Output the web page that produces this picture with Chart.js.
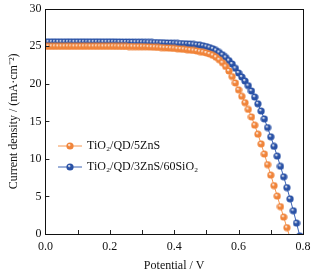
<!DOCTYPE html>
<html lang="en">
<head>
    <meta charset="UTF-8">
    <title>J-V curves</title>
    <script src="https://cdn.jsdelivr.net/npm/chart.js"></script>
    <style>
        body { margin: 0; background: #fff; }
        #box { width: 322px; height: 272px; }
    </style>
</head>
<body>
    <div id="box"><canvas id="jv" width="322" height="272"></canvas></div>

    <script>
        // potential (V)
        const voltage = [
            0.00, 0.01, 0.02, 0.03, 0.04, 0.05, 0.06, 0.07, 0.08, 0.09,
            0.10, 0.11, 0.12, 0.13, 0.14, 0.15, 0.16, 0.17, 0.18, 0.19,
            0.20, 0.21, 0.22, 0.23, 0.24, 0.25, 0.26, 0.27, 0.28, 0.29,
            0.30, 0.31, 0.32, 0.33, 0.34, 0.35, 0.36, 0.37, 0.38, 0.39,
            0.40, 0.41, 0.42, 0.43, 0.44, 0.45, 0.46, 0.47, 0.48, 0.49,
            0.50, 0.51, 0.52, 0.53, 0.54, 0.55, 0.56, 0.57, 0.58, 0.59,
            0.60, 0.61, 0.62, 0.63, 0.64, 0.65, 0.66, 0.67, 0.68, 0.69,
            0.70, 0.71, 0.72, 0.73, 0.74, 0.75, 0.76, 0.77, 0.78, 0.79
        ];

        // current density (mA/cm2), TiO2/QD/5ZnS
        const current5ZnS = [
            25.00, 25.00, 25.00, 25.00, 25.00, 25.00, 25.00, 25.00, 25.00, 25.00,
            25.00, 25.00, 25.00, 25.00, 25.00, 25.00, 25.00, 25.00, 25.00, 25.00,
            25.00, 25.00, 24.99, 24.99, 24.98, 24.98, 24.97, 24.97, 24.96, 24.96,
            24.95, 24.94, 24.92, 24.90, 24.88, 24.86, 24.84, 24.81, 24.78, 24.75,
            24.72, 24.68, 24.64, 24.60, 24.55, 24.50, 24.45, 24.38, 24.30, 24.22,
            24.12, 23.98, 23.80, 23.55, 23.22, 22.82, 22.32, 21.72, 20.98, 20.12,
            19.20, 18.35, 17.50, 16.60, 15.60, 14.50, 13.30, 12.00, 10.65, 9.25,
            7.85, 6.45, 5.05, 3.65, 2.25, 0.85, -0.55
        ];

        // current density (mA/cm2), TiO2/QD/3ZnS/60SiO2
        const current60SiO2 = [
            25.60, 25.60, 25.60, 25.60, 25.60, 25.60, 25.60, 25.60, 25.60, 25.60,
            25.60, 25.60, 25.60, 25.60, 25.60, 25.60, 25.60, 25.60, 25.60, 25.60,
            25.60, 25.60, 25.59, 25.59, 25.58, 25.58, 25.57, 25.57, 25.56, 25.56,
            25.55, 25.54, 25.53, 25.52, 25.51, 25.50, 25.49, 25.47, 25.45, 25.43,
            25.41, 25.39, 25.37, 25.35, 25.33, 25.30, 25.26, 25.21, 25.15, 25.07,
            24.97, 24.84, 24.67, 24.45, 24.18, 23.88, 23.52, 23.10, 22.65, 22.08,
            21.45, 20.92, 20.38, 19.76, 19.05, 18.25, 17.35, 16.38, 15.33, 14.18,
            12.95, 11.68, 10.38, 9.02, 7.62, 6.18, 4.68, 3.10, 1.45, -0.25
        ];

        const seriesNames = ["TiO\u2082/QD/5ZnS", "TiO\u2082/QD/3ZnS/60SiO\u2082"];
        const seriesColors = ["#f0843a", "#2a52a6"];
        const lineColors = ["#f59650", "#3a62b4"];

        const serif = "'Liberation Serif', 'Times New Roman', serif";

        // small shaded ball used as the marker
        function makeBall(color) {
            const c = document.createElement("canvas");
            c.width = 8; c.height = 8;
            const g = c.getContext("2d");
            const grad = g.createRadialGradient(3, 2.8, 0.3, 4, 4, 4);
            grad.addColorStop(0, "#ffffff");
            grad.addColorStop(0.35, color);
            grad.addColorStop(1, color);
            g.fillStyle = grad;
            g.beginPath();
            g.arc(4, 4, 3.6, 0, Math.PI * 2);
            g.fill();
            return c;
        }
        const balls = seriesColors.map(makeBall);

        function toPoints(ys) {
            return ys.map((y, i) => ({ x: voltage[i], y: y }));
        }

        // inward ticks, frame and the in-plot legend
        const framePlugin = {
            id: "frame",
            afterDraw(chart) {
                const ctx = chart.ctx;
                const a = chart.chartArea;
                const xs = chart.scales.x, ys = chart.scales.y;
                ctx.save();
                ctx.strokeStyle = "#222";
                ctx.lineWidth = 1;
                xs.ticks.forEach(t => {
                    const px = Math.round(xs.getPixelForValue(t.value)) + 0.5;
                    ctx.beginPath();
                    ctx.moveTo(px, a.bottom);
                    ctx.lineTo(px, a.bottom - 4);
                    ctx.stroke();
                });
                ys.ticks.forEach(t => {
                    const py = Math.round(ys.getPixelForValue(t.value)) + 0.5;
                    ctx.beginPath();
                    ctx.moveTo(a.left, py);
                    ctx.lineTo(a.left + 4, py);
                    ctx.stroke();
                });
                ctx.strokeStyle = "#111";
                ctx.strokeRect(Math.round(a.left) + 0.5, Math.round(a.top) + 0.5,
                    Math.round(a.right - a.left), Math.round(a.bottom - a.top));

                // legend
                ctx.font = "12px " + serif;
                ctx.textBaseline = "middle";
                chart.data.datasets.forEach((ds, i) => {
                    const y = 146 + i * 21;
                    ctx.strokeStyle = lineColors[i];
                    ctx.beginPath();
                    ctx.moveTo(58, y);
                    ctx.lineTo(82, y);
                    ctx.stroke();
                    ctx.drawImage(balls[i], 66, y - 4);
                    ctx.fillStyle = "#111";
                    ctx.fillText(ds.label, 87, y);
                });
                ctx.restore();
            }
        };

        new Chart(document.getElementById("jv"), {
            type: "line",
            data: {
                datasets: [current5ZnS, current60SiO2].map((ys, i) => ({
                    label: seriesNames[i],
                    data: toPoints(ys),
                    borderColor: lineColors[i],
                    borderWidth: 1,
                    pointStyle: balls[i],
                    pointRadius: 4,
                    tension: 0
                }))
            },
            options: {
                responsive: false,
                animation: false,
                layout: { padding: { top: 0, right: 19, left: 3, bottom: 0 } },
                plugins: { legend: { display: false }, tooltip: { enabled: false } },
                scales: {
                    x: {
                        type: "linear",
                        min: 0, max: 0.8,
                        grid: { display: false, drawTicks: false },
                        border: { display: false },
                        ticks: {
                            stepSize: 0.1,
                            padding: 7,
                            color: "#111",
                            font: { family: serif, size: 12, lineHeight: 1 },
                            callback: v => (Math.round(v * 10) % 2 === 0 ? v.toFixed(1) : "")
                        },
                        title: {
                            display: true, text: "Potential / V", color: "#111",
                            font: { family: serif, size: 12, lineHeight: 1 }, padding: { top: 0, bottom: 0 }
                        }
                    },
                    y: {
                        min: 0, max: 30,
                        grid: { display: false, drawTicks: false },
                        border: { display: false },
                        ticks: {
                            stepSize: 5,
                            padding: 4,
                            color: "#111",
                            font: { family: serif, size: 12, lineHeight: 0.8 }
                        },
                        title: {
                            display: true, text: "Current density / (mA\u00b7cm\u207b\u00b2)", color: "#111",
                            font: { family: serif, size: 12 }, padding: { bottom: 4 }
                        }
                    }
                }
            },
            plugins: [framePlugin]
        });
    </script>
</body>
</html>
